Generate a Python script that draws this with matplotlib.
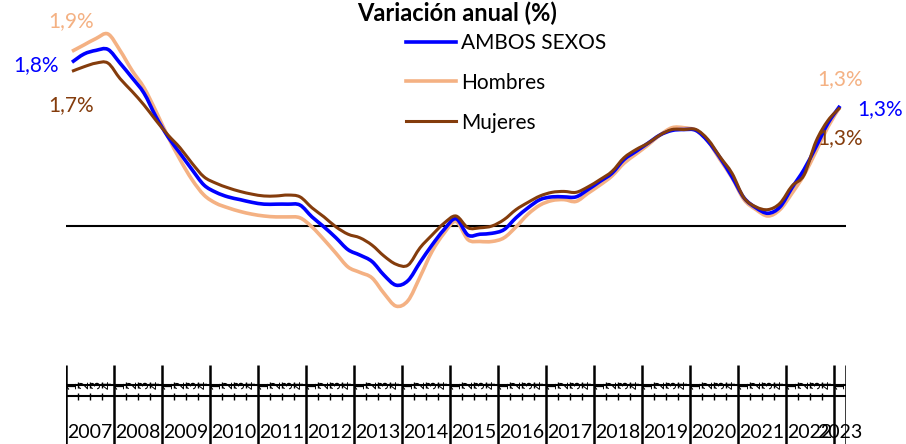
import numpy as np
import matplotlib
matplotlib.use("Agg")
import matplotlib.pyplot as plt
from matplotlib.path import Path
from matplotlib.patches import PathPatch
from matplotlib.lines import Line2D

plt.rcParams['font.family'] = ['Lato', 'DejaVu Sans']

# ============================================================================
# DATA  (variación anual, %, one value per quarter 2007T1 .. 2023T1)
# ============================================================================

years = [2007, 2008, 2009, 2010, 2011, 2012, 2013, 2014, 2015,
         2016, 2017, 2018, 2019, 2020, 2021, 2022, 2023]
quarters_per_year = [4] * 16 + [1]
quarter_labels = ["1", "2", "3", "4"]

ambos = [1.80, 1.89, 1.93, 1.94, 1.79, 1.63, 1.46, 1.20, 0.98, 0.80,
         0.62, 0.45, 0.37, 0.32, 0.29, 0.26, 0.24, 0.24, 0.24, 0.23,
         0.10, -0.01, -0.13, -0.26, -0.32, -0.39, -0.54, -0.65, -0.60, -0.40,
         -0.21, -0.04, 0.08, -0.10, -0.09, -0.08, -0.04, 0.09, 0.20, 0.29,
         0.32, 0.32, 0.32, 0.40, 0.49, 0.58, 0.73, 0.82, 0.91, 1.00,
         1.05, 1.06, 1.05, 0.93, 0.75, 0.54, 0.31, 0.20, 0.14, 0.21,
         0.42, 0.62, 0.87, 1.13, 1.32]

hombres = [1.92, 1.99, 2.06, 2.11, 1.93, 1.71, 1.52, 1.26, 0.98, 0.73,
           0.51, 0.34, 0.25, 0.20, 0.16, 0.13, 0.11, 0.10, 0.10, 0.09,
           -0.01, -0.15, -0.30, -0.45, -0.51, -0.57, -0.74, -0.88, -0.82, -0.56,
           -0.28, -0.08, 0.05, -0.15, -0.17, -0.17, -0.13, -0.01, 0.13, 0.23,
           0.28, 0.29, 0.27, 0.36, 0.45, 0.55, 0.69, 0.79, 0.89, 1.00,
           1.08, 1.08, 1.05, 0.93, 0.73, 0.53, 0.29, 0.18, 0.11, 0.18,
           0.36, 0.56, 0.82, 1.09, 1.31]

mujeres = [1.70, 1.75, 1.79, 1.79, 1.62, 1.48, 1.33, 1.16, 1.00, 0.86,
           0.69, 0.54, 0.47, 0.42, 0.38, 0.35, 0.33, 0.33, 0.34, 0.32,
           0.20, 0.10, -0.01, -0.09, -0.13, -0.21, -0.33, -0.42, -0.43, -0.24,
           -0.10, 0.03, 0.11, -0.02, -0.02, 0.00, 0.07, 0.18, 0.26, 0.33,
           0.37, 0.38, 0.37, 0.43, 0.51, 0.60, 0.75, 0.84, 0.91, 1.00,
           1.06, 1.06, 1.06, 0.95, 0.76, 0.58, 0.31, 0.21, 0.18, 0.25,
           0.44, 0.56, 0.93, 1.16, 1.30]

COLORS = {"ambos": "#0000FF", "hombres": "#F4B183", "mujeres": "#843C0C"}


def smooth_path(xs, ys):
    """Excel-like smoothed line: cubic Bezier through every data point."""
    p = np.column_stack([xs, ys]).astype(float)
    ext = np.vstack([p[0], p, p[-1]])
    verts = [p[0]]
    codes = [Path.MOVETO]
    for i in range(len(p) - 1):
        p0, p1, p2, p3 = ext[i], ext[i + 1], ext[i + 2], ext[i + 3]
        verts += [p1 + (p2 - p0) / 6, p2 - (p3 - p1) / 6, p2]
        codes += [Path.CURVE4] * 3
    return Path(verts, codes)


# ============================================================================
# FIGURE
# ============================================================================

W, H = 906, 444
fig = plt.figure(figsize=(W / 100, H / 100), dpi=100)

n = len(ambos)
x = np.arange(n)
left, width = 66 / W, 780 / W

# main plot: pixel y=0..340, zero at y=226, 91 px per 1 %
ax = fig.add_axes([left, (H - 340) / H, width, 340 / H])
ax.set_xlim(-0.5, n - 0.5)
ax.set_ylim((226 - 340) / 91, 226 / 91)
ax.axis('off')

ax.axhline(0, color='black', lw=1.5, zorder=1)

series = [("Hombres", hombres, COLORS['hombres'], 2.6, 2),
          ("AMBOS SEXOS", ambos, COLORS['ambos'], 2.6, 3),
          ("Mujeres", mujeres, COLORS['mujeres'], 2.2, 4)]
handles = {}
for name, vals, col, lw, z in series:
    ax.add_patch(PathPatch(smooth_path(x, vals), fill=False, edgecolor=col,
                           lw=lw, zorder=z, joinstyle='round', capstyle='butt'))
    handles[name] = Line2D([], [], color=col, lw=lw, label=name)

# value labels at both ends
def label(vals, idx, dx, dy, color):
    txt = f"{vals[idx]:.1f}".replace('.', ',') + '%'
    ax.annotate(txt, xy=(idx, vals[idx]), xytext=(dx, dy),
                textcoords='offset points', ha='center', va='center',
                color=color, fontsize=15, annotation_clip=False)

label(hombres, 0, -1, 22, COLORS['hombres'])
label(ambos, 0, -26, -2, COLORS['ambos'])
label(mujeres, 0, -1, -24, COLORS['mujeres'])
label(hombres, n - 1, 0, 20, COLORS['hombres'])
label(ambos, n - 1, 29, -2.5, COLORS['ambos'])
label(mujeres, n - 1, 0, -22, COLORS['mujeres'])

ax.legend(handles=[handles['AMBOS SEXOS'], handles['Hombres'], handles['Mujeres']],
          loc='upper left', bbox_to_anchor=(406 / W, 1 - 33 / H),
          bbox_transform=fig.transFigure, frameon=False, fontsize=15,
          handlelength=2.4, handletextpad=0.25, labelspacing=0.95,
          borderpad=0, borderaxespad=0)

fig.text(457 / W, 1 - 13 / H, 'Variación anual (%)', ha='center', va='center',
         fontsize=17, fontweight='bold')

# ============================================================================
# CATEGORY AXIS (quarters + years), pixel rows 365..444
# ============================================================================

axb = fig.add_axes([left, 0, width, 79 / H])
axb.set_xlim(-0.5, n - 0.5)
axb.set_ylim(79, 0)
axb.axis('off')

axb.hlines([20, 31], -0.5, n - 0.5, color='black', lw=1.5)

bounds = np.concatenate([[0], np.cumsum(quarters_per_year)]) - 0.5
axb.vlines(bounds, 0, 79, color='black', lw=1.8)

for start, nq in zip(bounds[:-1], quarters_per_year):
    for q in range(nq):
        axb.text(start + 0.5 + q, 19.5, quarter_labels[q], rotation=90,
                 ha='center', va='center', fontsize=10, clip_on=False)
        if q > 0:
            axb.vlines(start + q, 17, 23, color='black', lw=1)
            axb.vlines(start + q, 28, 35, color='black', lw=1)

for yr, start, nq in zip(years, bounds[:-1], quarters_per_year):
    axb.text(start + nq / 2, 67, str(yr), ha='center', va='center',
             fontsize=14, clip_on=False)

fig.savefig('out.png', dpi=100)
